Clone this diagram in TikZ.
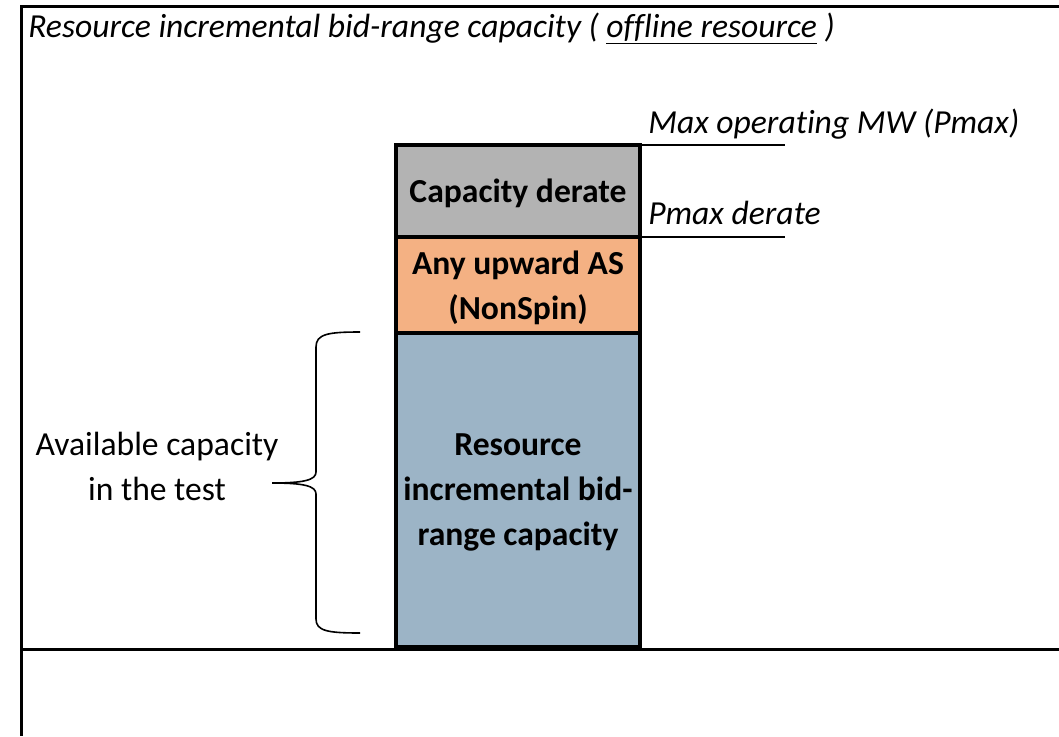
\documentclass[tikz,border=0pt]{standalone}
\usepackage{fontspec}
\setmainfont[Ligatures=NoCommon]{Carlito}
\usepackage{tikz}
\usetikzlibrary{positioning}

\definecolor{deratefill}{RGB}{179,179,179}
\definecolor{asfill}{RGB}{244,177,131}
\definecolor{bidfill}{RGB}{156,180,198}

\begin{document}
\begin{tikzpicture}[x=0.75pt, y=-0.75pt,
        txt/.style={font=\fontsize{25.2}{33.75}\selectfont, inner sep=0pt},
        layer/.style={rectangle, draw, line width=3pt, minimum width=183pt, outer sep=0pt, align=center, font=\fontsize{25.2}{33.75}\selectfont\bfseries, inner sep=0pt, text depth=0pt},
        frame/.style={line width=2.25pt},
        level/.style={line width=1.5pt}]
        \useasboundingbox (0,0) rectangle (1059,736);
        % outer frame
        \draw[frame] (1059,6.5) -- (21.5,6.5) -- (21.5,736);
        \draw[frame] (21.5,649.5) -- (1059,649.5);
        \node[txt, anchor=base west] (title) at (28,37) {\itshape Resource incremental bid-range capacity ( \underline{offline resource} )};

        % stacked capacity
        \node[layer, fill=deratefill, minimum height=69pt, anchor=north west] (derate) at (396,145) {Capacity derate};
        \node[layer, fill=asfill, minimum height=72pt, below=0pt of derate] (upas) {Any upward AS\\(NonSpin)};
        \node[layer, fill=bidfill, minimum height=235.5pt, below=0pt of upas] (bidrange) {Resource\\incremental bid-\\range capacity};

        % level marks
        \coordinate[right=108.75pt of derate.north east] (pmaxend);
        \coordinate[right=108.75pt of derate.south east] (derateend);
        \draw[level] (derate.north east) -- (pmaxend);
        \draw[level] (derate.south east) -- (derateend);
        \node[txt, anchor=base west] (pmax) at (648,133) {\itshape Max operating MW (Pmax)};
        \node[txt, anchor=base west] (pmaxderate) at (648,224) {\itshape Pmax derate};

        % brace
        \coordinate (bracetop) at (360,332);
        \coordinate (bracetip) at (272,483);
        \coordinate (bracebot) at (360,633);
        \draw[line width=1.2pt] (bracetop) .. controls (328,332) and (316,334) .. (316,347)
            -- (316,472) .. controls (316,480) and (304,483) .. (bracetip)
            .. controls (304,483) and (316,486) .. (316,494)
            -- (316,619) .. controls (316,631) and (328,633) .. (bracebot);
        \node[txt, align=center, anchor=base] (avail) at (157,500) {Available capacity\\in the test};
    \end{tikzpicture}
\end{document}
